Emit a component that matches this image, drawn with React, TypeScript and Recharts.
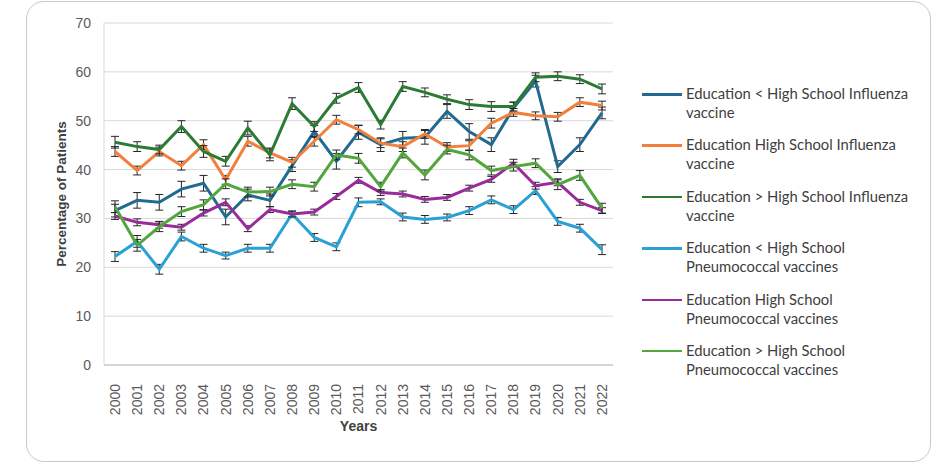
import { LineChart, Line, XAxis, YAxis, CartesianGrid, ErrorBar, Label } from 'recharts';

const years = [
  '2000', '2001', '2002', '2003', '2004', '2005', '2006', '2007', '2008', '2009', '2010', '2011',
  '2012', '2013', '2014', '2015', '2016', '2017', '2018', '2019', '2020', '2021', '2022',
];

const yTicks = [0, 10, 20, 30, 40, 50, 60, 70];

// influenza vaccine, by education level
const lessFlu = [31.6, 33.7, 33.3, 36.0, 37.2, 30.3, 34.8, 33.7, 40.8, 47.8, 41.7, 47.6, 45.1, 46.4, 46.6, 51.9, 47.8, 45.1, 52.6, 58.1, 40.6, 45.1, 51.6];
const lessFluErr = [1.3, 1.6, 1.6, 1.6, 1.6, 1.6, 1.2, 1.3, 1.2, 1.2, 1.6, 1.4, 1.4, 1.4, 1.4, 1.4, 1.6, 1.4, 1.2, 1.2, 1.2, 1.4, 1.2];
const hsFlu = [43.7, 39.8, 43.7, 40.8, 45.1, 37.9, 45.8, 43.4, 41.5, 45.8, 50.2, 48.2, 45.4, 44.7, 47.3, 44.6, 44.9, 49.5, 51.7, 51.0, 50.8, 53.8, 53.1];
const hsFluErr = [1.0, 0.9, 0.9, 0.9, 1.0, 0.9, 1.0, 1.0, 1.0, 1.0, 0.9, 0.9, 0.9, 1.0, 0.9, 0.9, 1.0, 1.0, 0.8, 0.8, 0.9, 0.9, 0.9];
const moreFlu = [45.6, 44.7, 44.1, 48.8, 43.7, 41.7, 48.5, 43.0, 53.5, 48.8, 54.6, 56.8, 49.2, 57.0, 55.8, 54.4, 53.3, 52.9, 52.9, 58.9, 59.1, 58.5, 56.5];
const moreFluErr = [1.2, 1.0, 0.9, 1.2, 1.2, 1.0, 1.4, 1.2, 1.2, 1.0, 1.0, 1.0, 0.9, 1.0, 0.9, 0.9, 1.0, 1.0, 0.9, 0.9, 0.9, 0.9, 1.0];

// pneumococcal vaccines, by education level
const lessPneumo = [22.2, 25.3, 19.6, 26.3, 23.9, 22.4, 23.9, 23.9, 30.9, 26.1, 24.2, 33.3, 33.4, 30.3, 29.8, 30.2, 31.6, 33.8, 31.8, 35.7, 29.4, 28.0, 23.6];
const lessPneumoErr = [1.0, 1.2, 1.0, 0.9, 0.8, 0.7, 0.8, 0.8, 0.6, 0.8, 0.8, 0.9, 0.6, 0.8, 0.8, 0.7, 0.8, 0.8, 0.8, 0.8, 0.8, 0.8, 1.0];
const hsPneumo = [30.5, 29.2, 28.7, 28.2, 31.1, 33.3, 27.9, 31.8, 30.9, 31.3, 34.5, 37.8, 35.3, 35.0, 33.9, 34.3, 36.2, 38.0, 41.3, 36.7, 37.4, 33.3, 31.6];
const hsPneumoErr = [0.7, 0.7, 0.7, 0.6, 0.6, 0.7, 0.6, 0.6, 0.6, 0.6, 0.6, 0.6, 0.6, 0.6, 0.6, 0.6, 0.6, 0.6, 0.8, 0.7, 0.7, 0.6, 0.6];
const morePneumo = [32.4, 24.5, 28.3, 31.4, 32.8, 37.1, 35.4, 35.5, 37.0, 36.5, 43.0, 42.3, 36.5, 43.4, 38.9, 44.1, 43.0, 39.8, 40.6, 41.3, 36.9, 38.8, 32.1];
const morePneumoErr = [1.2, 1.2, 1.0, 1.0, 1.0, 1.0, 1.0, 0.9, 0.9, 0.9, 1.0, 1.0, 0.9, 1.0, 1.0, 0.9, 1.0, 0.9, 0.9, 0.9, 1.0, 1.0, 1.0];

const data = years.map((year, i) => ({
  year,
  lessFlu: lessFlu[i],
  lessFluErr: lessFluErr[i],
  hsFlu: hsFlu[i],
  hsFluErr: hsFluErr[i],
  moreFlu: moreFlu[i],
  moreFluErr: moreFluErr[i],
  lessPneumo: lessPneumo[i],
  lessPneumoErr: lessPneumoErr[i],
  hsPneumo: hsPneumo[i],
  hsPneumoErr: hsPneumoErr[i],
  morePneumo: morePneumo[i],
  morePneumoErr: morePneumoErr[i],
}));

const series = [
  { key: 'lessFlu', color: '#226b90', name: ['Education < High School Influenza', 'vaccine'] },
  { key: 'hsFlu', color: '#f27f3c', name: ['Education High School Influenza', 'vaccine'] },
  { key: 'moreFlu', color: '#2c7b35', name: ['Education > High School Influenza', 'vaccine'] },
  { key: 'lessPneumo', color: '#2aa1d4', name: ['Education < High School', 'Pneumococcal vaccines'] },
  { key: 'hsPneumo', color: '#992b9b', name: ['Education High School', 'Pneumococcal vaccines'] },
  { key: 'morePneumo', color: '#52a63c', name: ['Education > High School', 'Pneumococcal vaccines'] },
];

const axisFont = '"Liberation Sans", Arial, sans-serif';

function YearTick({ x, y, payload }: any) {
  return (
    <g transform={`translate(${x},${y + 11}) rotate(-90)`}>
      <text x={0} y={0} dy="0.35em" textAnchor="end" fill="#595959" fontSize={14} fontFamily={axisFont}>
        {payload.value}
      </text>
    </g>
  );
}

function Legend() {
  return (
    <div style={{ position: 'absolute', left: 642, top: 84, fontFamily: 'Lato, "Open Sans", sans-serif' }}>
      {series.map((s) => (
        <div key={s.key} style={{ display: 'flex', alignItems: 'flex-start', height: 51.4 }}>
          <div style={{ width: 40, height: 2.5, background: s.color, marginTop: 9, marginRight: 4 }} />
          <div style={{ fontSize: 14.8, lineHeight: '19px', color: '#404040' }}>
            {s.name[0]}
            <br />
            {s.name[1]}
          </div>
        </div>
      ))}
    </div>
  );
}

export default function App() {
  return (
    <div style={{ position: 'fixed', left: 0, top: 0, width: 952, height: 474, background: '#fff', overflow: 'hidden' }}>
      <div
        style={{
          position: 'absolute',
          left: 26,
          top: 1,
          width: 905,
          height: 461,
          boxSizing: 'border-box',
          border: '1.5px solid #c8c8c8',
          borderRadius: 18,
        }}
      />
      <LineChart
        width={952}
        height={474}
        data={data}
        margin={{ top: 23, right: 339, bottom: 49, left: 0 }}
        style={{ position: 'absolute', left: 0, top: 0 }}
      >
        <CartesianGrid vertical={false} stroke="#d9d9d9" strokeWidth={1} />
        <XAxis
          dataKey="year"
          interval={0}
          height={60}
          padding={{ left: 11, right: 11 }}
          tickLine={false}
          axisLine={{ stroke: '#bfbfbf', strokeWidth: 1 }}
          tick={<YearTick />}
        >
          <Label
            value="Years"
            position="insideBottom"
            offset={-6}
            style={{ fontFamily: axisFont, fontSize: 14, fontWeight: 700, fill: '#404040' }}
          />
        </XAxis>
        <YAxis
          width={104}
          domain={[0, 70]}
          ticks={yTicks}
          tickLine={false}
          tickSize={0}
          tickMargin={13}
          axisLine={{ stroke: '#d9d9d9', strokeWidth: 1 }}
          tick={{ fill: '#595959', fontSize: 14, fontFamily: axisFont }}
        >
          <Label
            value="Percentage of Patients"
            angle={-90}
            position="insideLeft"
            offset={61}
            style={{ textAnchor: 'middle', fontFamily: axisFont, fontSize: 13.5, fontWeight: 700, fill: '#404040' }}
          />
        </YAxis>
        {series.map((s) => (
          <Line
            key={s.key}
            type="linear"
            dataKey={s.key}
            stroke={s.color}
            strokeWidth={3}
            dot={false}
            activeDot={false}
            isAnimationActive={false}
          >
            <ErrorBar dataKey={`${s.key}Err`} width={4} strokeWidth={1} stroke="#262626" direction="y" />
          </Line>
        ))}
      </LineChart>
      <Legend />
    </div>
  );
}
